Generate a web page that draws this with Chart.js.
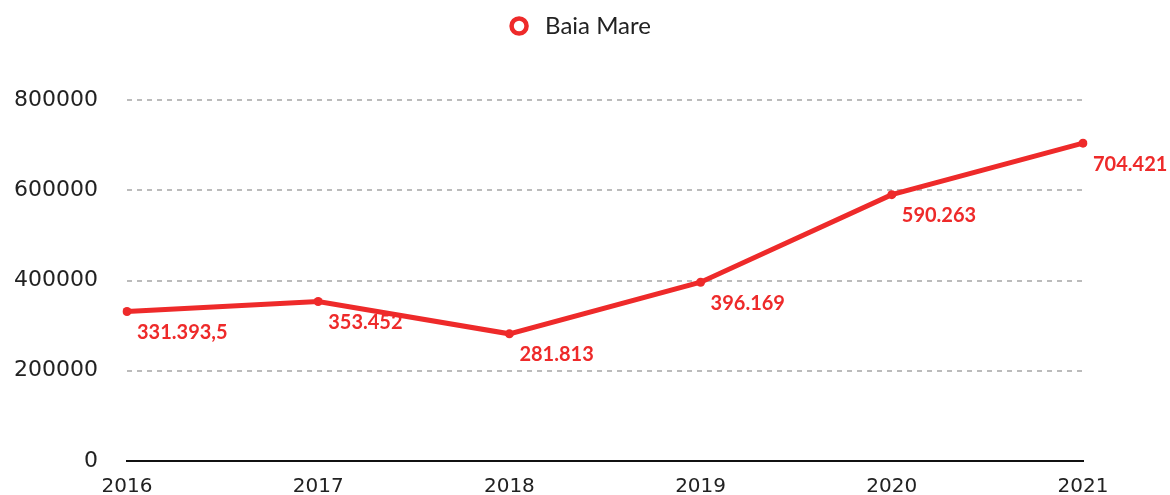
<!DOCTYPE html>
<html>
<head>
<meta charset="utf-8">
<script src="https://cdn.jsdelivr.net/npm/chart.js@4/dist/chart.umd.min.js"></script>
<style>
html,body{margin:0;padding:0;background:#fff;}
#wrap{width:1170px;height:495px;}
</style>
</head>
<body>
<div id="wrap"><canvas id="c"></canvas></div>
<script>
const years = ["2016","2017","2018","2019","2020","2021"];
const baiaMare = [331393.5, 353452, 281813, 396169, 590263, 704421];
const pointLabels = ["331.393,5","353.452","281.813","396.169","590.263","704.421"];
const yTicks = [0,200000,400000,600000,800000];
const seriesName = "Baia Mare";

const red = "#ee2a2a";

// value under each point, shifted to the right
const valueLabels = {
  id:"valueLabels",
  afterDatasetsDraw(chart){
    const ctx = chart.ctx;
    const meta = chart.getDatasetMeta(0);
    ctx.save();
    ctx.font = "bold 20px Lato";
    ctx.fillStyle = red;
    ctx.textAlign = "left";
    ctx.textBaseline = "middle";
    meta.data.forEach((pt,i)=>{
      ctx.fillText(pointLabels[i], pt.x+10, pt.y+21);
    });
    ctx.restore();
  }
};

// legend drawn by hand, centered on the whole canvas
const topLegend = {
  id:"topLegend",
  afterDraw(chart){
    const ctx = chart.ctx;
    ctx.save();
    ctx.font = "24px Lato";
    const tw = ctx.measureText(seriesName).width;
    const total = 26 + tw;
    const x0 = chart.width/2 - total/2;
    const y = 26;
    ctx.beginPath();
    ctx.arc(x0, y, 7.5, 0, Math.PI*2);
    ctx.fillStyle = "#fff";
    ctx.fill();
    ctx.lineWidth = 4.5;
    ctx.strokeStyle = red;
    ctx.stroke();
    ctx.fillStyle = "#222";
    ctx.textAlign = "left";
    ctx.textBaseline = "middle";
    ctx.fillText(seriesName, x0+26, y);
    ctx.restore();
  }
};

new Chart(document.getElementById("c"),{
  type:"line",
  data:{
    labels:years,
    datasets:[{
      label:seriesName,
      data:baiaMare,
      borderColor:red,
      backgroundColor:"#fff",
      borderWidth:5,
      pointRadius:4.5,
      pointBackgroundColor:red,
      pointBorderWidth:0,
      tension:0
    }]
  },
  options:{
    responsive:true,
    maintainAspectRatio:false,
    animation:false,
    layout:{padding:{left:14,right:87,top:100,bottom:0}},
    plugins:{
      legend:{display:false},
      tooltip:{enabled:false}
    },
    scales:{
      x:{
        offset:false,
        grid:{display:false,drawTicks:false},
        border:{display:true,color:"#111",width:2},
        ticks:{color:"#222",font:{family:"DejaVu Sans",size:20},padding:14},
        afterFit(scale){ scale.height -= 18; }
      },
      y:{
        min:0,max:800000,
        afterBuildTicks(scale){ scale.ticks = yTicks.map(v=>({value:v})); },
        grid:{
          drawTicks:false,
          color:ctx=>ctx.tick.value===0?"rgba(0,0,0,0)":"#bbb",
          lineWidth:2
        },
        border:{display:false,dash:[5,5]},
        ticks:{color:"#222",font:{family:"DejaVu Sans",size:22},padding:29,
          callback:v=>String(v)},
        afterFit(scale){ scale.width -= 29; scale.paddingBottom = 0; }
      }
    }
  },
  plugins:[valueLabels,topLegend]
});
</script>
</body>
</html>
